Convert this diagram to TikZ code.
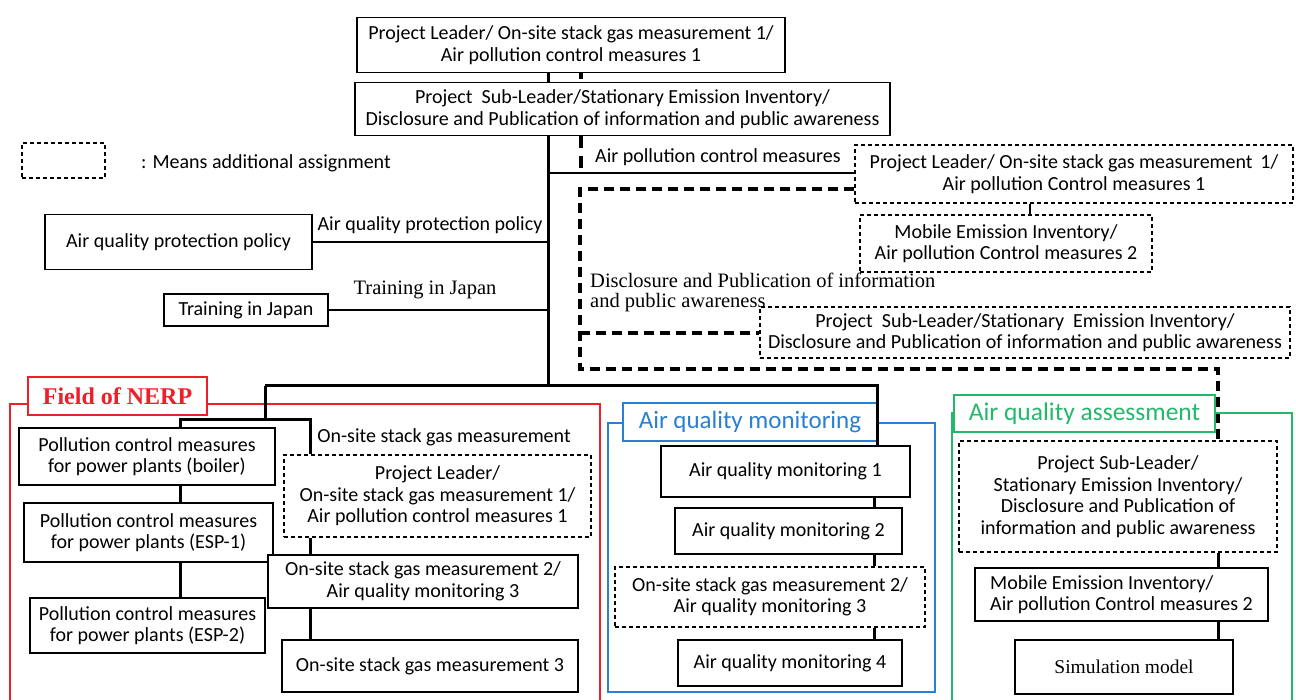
\documentclass[tikz,border=0pt]{standalone}
\usepackage{fontspec}
\usepackage{xcolor}
\newfontfamily\calfont{Carlito}
\newfontfamily\tmsfont{Liberation Serif}
\definecolor{nerpred}{rgb}{0.93,0.12,0.16}
\definecolor{aqmblue}{rgb}{0.16,0.50,0.82}
\definecolor{aqagreen}{rgb}{0.14,0.72,0.42}
\tikzset{
  box/.style={draw, line width=1.3pt, inner sep=0pt, align=center, fill=white,
    font=\calfont\fontsize{20}{21.5}\selectfont},
  addbox/.style={box, line width=1.1pt, dash pattern=on 4pt off 3pt},
  link/.style={line width=3pt},
  extra/.style={line width=3.2pt, dash pattern=on 10pt off 6pt},
  lbl/.style={inner sep=0pt, font=\calfont\fontsize{20}{21.5}\selectfont},
  tlbl/.style={inner sep=0pt, font=\tmsfont\fontsize{20.5}{19.5}\selectfont},
  fieldbox/.style={draw, line width=1.6pt, fill=white, inner sep=0pt}
}

\begin{document}
\begin{tikzpicture}[x=1pt, y=-1pt]
  \useasboundingbox (0,0) rectangle (1296,700);
  % upper part
  \node[box, minimum width=428pt, minimum height=55pt] (pl) at (571,45)
    {Project Leader/ On-site stack gas measurement 1/\\Air pollution control measures 1};
  \node[box, minimum width=535pt, minimum height=53pt] (subl) at (622.5,109)
    {Project\ \ Sub-Leader/Stationary Emission Inventory/\\Disclosure and Publication of information and public awareness};
  \node[addbox, minimum width=83pt, minimum height=35pt] (legend) at (63.5,160.5) {};
  \node[lbl, anchor=west] (legendtxt) at (141,163) {: Means additional assignment};
  \node[addbox, minimum width=438pt, minimum height=58pt] (pladd) at (1074,174)
    {Project Leader/ On-site stack gas measurement\ \,1/\\Air pollution Control measures 1};
  \node[addbox, minimum width=292pt, minimum height=57pt] (mobadd) at (1006,243.5)
    {Mobile Emission Inventory/\\Air pollution Control measures 2};
  \node[addbox, minimum width=530pt, minimum height=51pt] (subladd) at (1025,332.5)
    {Project\ \ Sub-Leader/Stationary\ \ Emission Inventory/\\Disclosure and Publication of information and public awareness};
  \node[box, minimum width=267pt, minimum height=55pt] (policy) at (178.5,242) {Air quality protection policy};
  \node[box, minimum width=164pt, minimum height=32pt] (train) at (246,310) {Training in Japan};

  \node[lbl] (apclbl) at (718,157) {Air pollution control measures};
  \node[lbl] (policylbl) at (430,225) {Air quality protection policy};
  \node[tlbl] (trainlbl) at (425,290) {Training in Japan};
  \node[tlbl, anchor=north west, align=left] (disclbl) at (590,273)
    {Disclosure and Publication of information\\and public awareness};

  \coordinate (tr) at (548,386);
  \coordinate (ad) at (581,173);

  \draw[link] (pl.south -| tr) -- (subl.north -| tr);
  \draw[link] (subl.south -| tr) -- (tr);
  \draw[extra, dash pattern=on 6pt off 4pt] (pl.south -| ad) -- (subl.north -| ad);
  \draw[extra, dash pattern=on 12pt off 8pt] (subl.south -| ad) -- (ad);
  \draw[link, line width=2.6pt] (tr |- ad) -- (pladd.west |- ad);
  \draw[link, line width=2.6pt] (policy.east) -- (tr |- policy.east);
  \draw[link, line width=2.6pt] (train.east) -- (tr |- train.east);
  \draw[link, line width=2.4pt] (pladd.south -| 1030,0) -- (mobadd.north -| 1030,0);
  % additional assignment path
  \draw[extra] (pladd.west |- 0,189) -| (580,369) -- (1218,369) -- (1218,441);
  \draw[extra] (580,333) -- (subladd.west |- 0,333);

  % Field of NERP
  \draw[nerpred, line width=1.6pt] (10,700) -- (10,404) -- (600,404) -- (600,700);
  \node[fieldbox, draw=nerpred, minimum width=179pt, minimum height=38pt, text=nerpred,
    font=\tmsfont\bfseries\fontsize{24}{24}\selectfont] (nerp) at (117.5,396) {Field of NERP};
  \node[box, minimum width=256pt, minimum height=57pt] (boiler) at (147,456.5)
    {Pollution control measures\\for power\ plants (boiler)};
  \node[box, minimum width=249pt, minimum height=59pt] (esp1) at (148.5,532.5)
    {Pollution control measures\\for power plants (ESP-1)};
  \node[box, minimum width=235pt, minimum height=55pt] (esp2) at (147.5,625.5)
    {Pollution control measures\\for power plants (ESP-2)};
  \node[lbl] (osmlbl) at (444,437) {On-site stack gas measurement};
  \node[addbox, minimum width=307pt, minimum height=82pt] (pln) at (437.5,496)
    {Project Leader/\\On-site stack gas measurement 1/\\Air pollution control measures 1};
  \node[box, minimum width=310pt, minimum height=53pt] (osm2) at (423,581.5)
    {On-site stack gas measurement 2/\\Air quality monitoring 3};
  \node[box, minimum width=296pt, minimum height=52pt] (osm3) at (430,666)
    {On-site stack gas measurement 3};

  % Air quality monitoring
  \draw[aqmblue, line width=1.6pt] (608,423) rectangle (935,692);
  \node[fieldbox, draw=aqmblue, minimum width=254pt, minimum height=38pt, text=aqmblue,
    font=\calfont\fontsize{25}{25}\selectfont] (aqm) at (750,422) {Air quality monitoring};
  \node[box, minimum width=249pt, minimum height=51pt] (aqm1) at (785.5,471.5) {Air quality monitoring 1};
  \node[box, minimum width=227pt, minimum height=46pt] (aqm2) at (788.5,531) {Air quality monitoring 2};
  \node[addbox, minimum width=310pt, minimum height=60pt] (aqm3) at (770,597)
    {On-site stack gas measurement 2/\\Air quality monitoring 3};
  \node[box, minimum width=224pt, minimum height=46pt] (aqm4) at (790,663) {Air quality monitoring 4};

  % Air quality assessment
  \draw[aqagreen, line width=1.6pt] (952,700) -- (952,413) -- (1292,413) -- (1292,700);
  \node[fieldbox, draw=aqagreen, minimum width=261pt, minimum height=37pt, text=aqagreen,
    font=\calfont\fontsize{25.5}{25}\selectfont] (aqa) at (1084.5,413.5) {Air quality assessment};
  \node[addbox, minimum width=318pt, minimum height=111pt] (sublg) at (1118,496.5)
    {Project\ Sub-Leader/\\Stationary\ Emission Inventory/\\Disclosure and Publication of\\information and public awareness};
  \node[box, minimum width=293pt, minimum height=53pt, align=left] (mob) at (1121.5,594.5)
    {Mobile Emission Inventory/\\Air pollution Control measures 2};
  \node[box, minimum width=218pt, minimum height=54pt, font=\tmsfont\fontsize{19.5}{19}\selectfont] (sim) at (1124,667)
    {Simulation model};

  % lower links
  \coordinate (bl) at (265,386);
  \coordinate (br) at (877,386);
  \coordinate (nj) at (265,420);
  \draw[link] (bl) -- (br) -- (aqm1.north -| br);
  \draw[link] (bl) -- (nj);
  \draw[link] (boiler.north -| 180,0) |- (nj) -| (pln.north -| 310,0);
  \draw[link] (boiler.south -| 180,0) -- (esp1.north -| 180,0);
  \draw[link] (esp1.south -| 180,0) -- (esp2.north -| 180,0);
  \draw[link] (pln.south -| 310,0) -- (osm2.north -| 310,0);
  \draw[link] (osm2.south -| 310,0) -- (osm3.north -| 310,0);
  \draw[link] (aqm1.south -| 874,0) -- (aqm2.north -| 874,0);
  \draw[link] (aqm2.south -| 874,0) -- (aqm3.north -| 874,0);
  \draw[link] (aqm3.south -| 874,0) -- (aqm4.north -| 874,0);
  \draw[link] (sublg.south -| 1218,0) -- (mob.north -| 1218,0);
  \draw[link] (mob.south -| 1218,0) -- (sim.north -| 1218,0);
\end{tikzpicture}
\end{document}
